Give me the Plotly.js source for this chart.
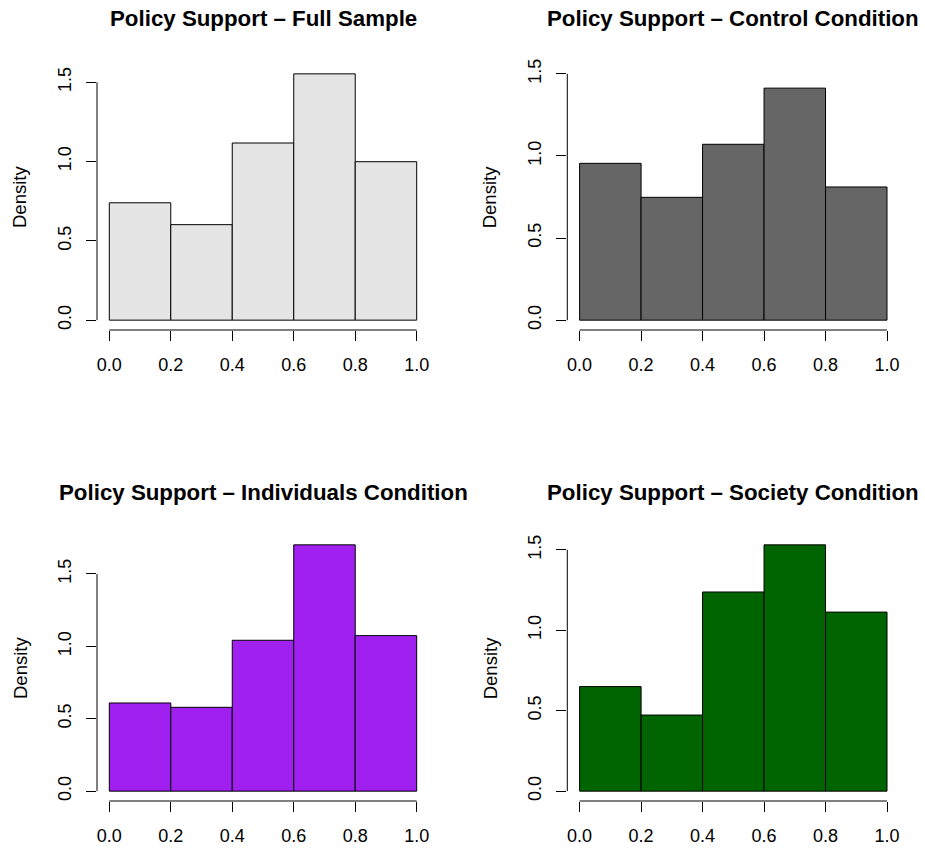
<!DOCTYPE html>
<html>
<head>
<meta charset="utf-8">
<script src="https://cdn.plot.ly/plotly-3.0.1.min.js"></script>
<style>
  html, body { margin: 0; padding: 0; background: #ffffff; }
  #chart { width: 925px; height: 850px; }
</style>
</head>
<body>
<div id="chart"></div>
<script>
// ---- data ----
const breaks = [0.0, 0.2, 0.4, 0.6, 0.8, 1.0];
const xTickLabels = ["0.0", "0.2", "0.4", "0.6", "0.8", "1.0"];
const yTickVals = [0.0, 0.5, 1.0, 1.5];
const yTickLabels = ["0.0", "0.5", "1.0", "1.5"];

const panelTitles = [
  "Policy Support \u2013 Full Sample",
  "Policy Support \u2013 Control Condition",
  "Policy Support \u2013 Individuals Condition",
  "Policy Support \u2013 Society Condition"
];
const densityFull        = [0.740, 0.602, 1.117, 1.553, 0.999];
const densityControl     = [0.955, 0.748, 1.071, 1.413, 0.811];
const densityIndividuals = [0.609, 0.579, 1.042, 1.701, 1.074];
const densitySociety     = [0.650, 0.473, 1.238, 1.531, 1.113];
const yLimits = [1.553, 1.5, 1.701, 1.531];
const fillColors = ["#E5E5E5", "#666666", "#A020F0", "#006400"];
const yLabel = "Density";

// ---- layout geometry (pixels) ----
const W = 925, H = 850;
const FONT = "'Liberation Sans', Arial, Helvetica, sans-serif";
const panelsPx = [
  {x0: 97,    x1: 429,   y0: 64,  y1: 330, titleY: 19},
  {x0: 567.3, x1: 899.3, y0: 64,  y1: 330, titleY: 19},
  {x0: 97,    x1: 429,   y0: 535, y1: 801, titleY: 493},
  {x0: 567.3, x1: 899.3, y0: 535, y1: 801, titleY: 493}
];
const densities = [densityFull, densityControl, densityIndividuals, densitySociety];

const mids = breaks.slice(0, -1).map((b, k) => (b + breaks[k + 1]) / 2);
const widths = breaks.slice(0, -1).map((b, k) => breaks[k + 1] - b);

const traces = [];
const layout = {
  width: W, height: H,
  margin: {l: 0, r: 0, t: 0, b: 0},
  paper_bgcolor: "#ffffff",
  plot_bgcolor: "#ffffff",
  showlegend: false,
  bargap: 0,
  font: {family: FONT, color: "#000000"},
  shapes: [],
  annotations: []
};

panelsPx.forEach((p, i) => {
  const n = i + 1;
  const xa = n === 1 ? "xaxis" : "xaxis" + n;
  const ya = n === 1 ? "yaxis" : "yaxis" + n;
  const xr = n === 1 ? "x" : "x" + n;
  const yr = n === 1 ? "y" : "y" + n;
  const ymax = yLimits[i];
  const span = breaks[breaks.length - 1] - breaks[0];

  traces.push({
    type: "bar",
    x: mids,
    y: densities[i],
    width: widths,
    xaxis: xr, yaxis: yr,
    marker: {color: fillColors[i], line: {color: "#000000", width: 1}},
    hoverinfo: "x+y"
  });

  layout[xa] = {
    domain: [p.x0 / W, p.x1 / W],
    anchor: yr,
    range: [breaks[0] - 0.04 * span, breaks[breaks.length - 1] + 0.04 * span],
    tickmode: "array",
    tickvals: breaks,
    ticktext: xTickLabels,
    ticks: "outside", ticklen: 10, tickwidth: 1, tickcolor: "#000000",
    ticklabelstandoff: 8,
    tickfont: {family: FONT, size: 18, color: "#000000"},
    showgrid: false, zeroline: false, showline: false,
    fixedrange: true
  };
  layout[ya] = {
    domain: [1 - p.y1 / H, 1 - p.y0 / H],
    anchor: xr,
    range: [-0.04 * ymax, 1.04 * ymax],
    tickmode: "array",
    tickvals: yTickVals,
    ticktext: yTickLabels,
    tickangle: -90,
    ticks: "outside", ticklen: 10, tickwidth: 1, tickcolor: "#000000",
    ticklabelstandoff: 8,
    tickfont: {family: FONT, size: 18, color: "#000000"},
    showgrid: false, zeroline: false, showline: false,
    fixedrange: true
  };

  // R-style axis lines spanning only the tick range
  layout.shapes.push({
    type: "line", xref: xr, yref: yr + " domain",
    x0: breaks[0], x1: breaks[breaks.length - 1], y0: 0, y1: 0,
    line: {color: "#000000", width: 1}
  });
  layout.shapes.push({
    type: "line", xref: xr + " domain", yref: yr,
    x0: 0, x1: 0, y0: yTickVals[0], y1: yTickVals[yTickVals.length - 1],
    line: {color: "#000000", width: 1}
  });

  // panel title
  layout.annotations.push({
    xref: "paper", yref: "paper",
    x: ((p.x0 + p.x1) / 2) / W, y: 1 - p.titleY / H,
    xanchor: "center", yanchor: "middle",
    text: "<b>" + panelTitles[i] + "</b>",
    showarrow: false,
    font: {family: FONT, size: 22.3, color: "#000000"}
  });
  // y label
  layout.annotations.push({
    xref: "paper", yref: "paper",
    x: (p.x0 - 77) / W, y: 1 - ((p.y0 + p.y1) / 2) / H,
    xanchor: "center", yanchor: "middle",
    text: yLabel, textangle: -90,
    showarrow: false,
    font: {family: FONT, size: 18.5, color: "#000000"}
  });
});

Plotly.newPlot("chart", traces, layout, {displayModeBar: false, staticPlot: true});
</script>
</body>
</html>
